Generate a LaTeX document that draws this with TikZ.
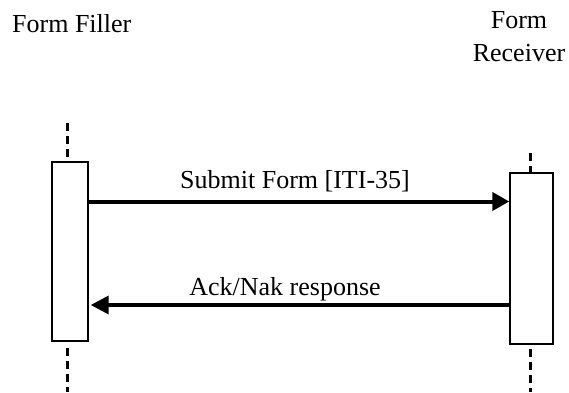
\documentclass[tikz,border=0pt]{standalone}
\usepackage{fontspec}
\setmainfont{Liberation Serif}
\usetikzlibrary{arrows.meta}
\begin{document}
\begin{tikzpicture}[x=1pt,y=-1pt,
  lbl/.style={inner sep=0pt,font=\fontsize{26}{33}\selectfont},
  actbox/.style={draw,line width=1.4pt,fill=white,rectangle,inner sep=0pt},
  lifeline/.style={line width=3pt,dash pattern=on 8pt off 5pt},
  msg/.style={line width=4pt,-{Triangle[length=17pt,width=18pt]}},
  reply/.style={line width=3.5pt,-{Triangle[length=18pt,width=18pt]}}]
\useasboundingbox (0,0) rectangle (569,392);
% actors
\node[lbl,anchor=base west] (filler) at (12,32) {Form Filler};
\node[lbl,anchor=base,align=center] (receiver) at (519,61) {Form\\Receiver};
% lifelines
\coordinate (lt) at (67,123);
\coordinate (lb) at (67,392);
\coordinate (rt) at (530,153);
\coordinate (rb) at (530,392);
\node[actbox,minimum width=36pt,minimum height=179pt] (lbox) at (70,251.5) {};
\node[actbox,minimum width=43pt,minimum height=171pt] (rbox) at (531.5,258.5) {};
\draw[lifeline] (lt) -- (lt |- lbox.north);
\draw[lifeline] (lb |- lbox.south) ++(0,6) coordinate (lbs) (lbs) -- (lb);
\draw[lifeline] (rt) -- (rt |- rbox.north);
\draw[lifeline] (rb |- rbox.south) ++(0,4) coordinate (rbs) (rbs) -- (rb);
% messages
\coordinate (m1s) at (lbox.east |- 0,201.5);
\coordinate (m1e) at (rbox.west |- 0,201.5);
\coordinate (m2s) at (rbox.west |- 0,305);
\coordinate (m2e) at ([xshift=2pt]lbox.east |- 0,305);
\draw[msg] (m1s) -- (m1e);
\draw[reply] (m2s) -- (m2e);
\node[lbl,anchor=base] (submit) at (295,188) {Submit Form [ITI-35]};
\node[lbl,anchor=base] (ack) at (285,295) {Ack/Nak response};
\end{tikzpicture}
\end{document}
